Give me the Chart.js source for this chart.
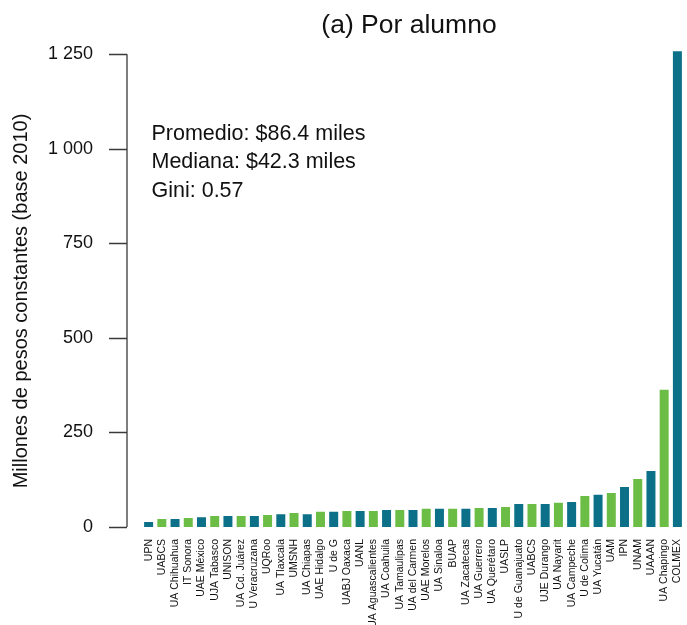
<!DOCTYPE html>
<html>
<head>
<meta charset="utf-8">
<script src="https://cdn.jsdelivr.net/npm/chart.js@4/dist/chart.umd.min.js"></script>
<style>
  html, body { margin: 0; padding: 0; background: #fff; }
  #wrap { width: 687px; height: 625px; }
</style>
</head>
<body>
<div id="wrap"><canvas id="graficoAlumno"></canvas></div>
<script>
// datos (miles de pesos por alumno)
const universidades = ["UPN", "UABCS", "UA Chihuahua", "IT Sonora", "UAE México", "UJA Tabasco", "UNISON",
  "UA Cd. Juárez", "U Veracruzana", "UQRoo", "UA Tlaxcala", "UMSNH", "UA Chiapas", "UAE Hidalgo", "U de G",
  "UABJ Oaxaca", "UANL", "UA Aguascalientes", "UA Coahuila", "UA Tamaulipas", "UA del Carmen", "UAE Morelos",
  "UA Sinaloa", "BUAP", "UA Zacatecas", "UA Guerrero", "UA Querétaro", "UASLP", "U de Guanajuato", "UABCS",
  "UJE Durango", "UA Nayarit", "UA Campeche", "U de Colima", "UA Yucatán", "UAM", "IPN", "UNAM", "UAAAN",
  "UA Chapingo", "COLMEX"];
const gastoPorAlumno = [13, 21, 21, 24, 26, 29, 29, 29, 29, 32, 34, 37, 34, 40, 40, 42, 42, 42, 45, 45,
  45, 48, 48, 48, 48, 50, 50, 53, 61, 61, 61, 64, 66, 82, 85, 90, 106, 127, 148, 363, 1258];
const ticksY = [0, 250, 500, 750, 1000, 1250];
const titulo = "(a) Por alumno";
const tituloY = "Millones de pesos constantes (base 2010)";
const notas = ["Promedio: $86.4 miles", "Mediana: $42.3 miles", "Gini: 0.57"];

const FUENTE = "'Liberation Sans', Arial, sans-serif";
const TEAL = "rgb(11, 112, 136)";
const VERDE = "rgb(108, 189, 69)";

// eje y separado de las barras, titulos y notas
const ejeY = {
  id: "ejeY",
  afterDraw(chart) {
    const ctx = chart.ctx;
    const y = chart.scales.y;
    const area = chart.chartArea;
    const x0 = area.left - 15;
    ctx.save();
    ctx.strokeStyle = "#3a3a3a";
    ctx.lineWidth = 1.3;
    ctx.beginPath();
    ctx.moveTo(x0, y.getPixelForValue(0));
    ctx.lineTo(x0, y.getPixelForValue(ticksY[ticksY.length - 1]));
    ticksY.forEach(v => {
      const py = Math.round(y.getPixelForValue(v)) + 0.5;
      ctx.moveTo(x0 - 18, py);
      ctx.lineTo(x0, py);
    });
    ctx.stroke();

    ctx.fillStyle = "#111";
    ctx.textBaseline = "alphabetic";

    // titulo centrado sobre el area de barras
    ctx.font = "26.5px " + FUENTE;
    ctx.textAlign = "center";
    ctx.fillText(titulo, (area.left + area.right) / 2 - 4, 33);

    // titulo del eje y
    ctx.save();
    ctx.translate(26.5, 301);
    ctx.rotate(-Math.PI / 2);
    ctx.font = "20px " + FUENTE;
    ctx.fillText(tituloY, 0, 0);
    ctx.restore();

    // promedio, mediana y gini
    ctx.textAlign = "left";
    ctx.font = "21.5px " + FUENTE;
    notas.forEach((t, i) => ctx.fillText(t, 151.5, 139.5 + i * 28.7));
    ctx.restore();
  }
};

new Chart(document.getElementById("graficoAlumno"), {
  type: "bar",
  data: {
    labels: universidades,
    datasets: [{
      label: "Por alumno",
      data: gastoPorAlumno,
      backgroundColor: gastoPorAlumno.map((v, i) => i % 2 === 0 ? TEAL : VERDE),
      barPercentage: 0.68,
      categoryPercentage: 1
    }]
  },
  options: {
    responsive: true,
    maintainAspectRatio: false,
    animation: false,
    layout: { padding: { left: 0, right: 3, top: 50.5, bottom: 0 } },
    plugins: {
      legend: { display: false },
      tooltip: { enabled: false },
      title: { display: false }
    },
    scales: {
      x: {
        grid: { display: false, drawTicks: false },
        border: { display: false },
        ticks: {
          autoSkip: false,
          maxRotation: 90,
          minRotation: 90,
          padding: 12,
          color: "#111",
          font: { family: FUENTE, size: 10.5 }
        },
        afterFit: s => {
          s.height = 98;
          s.paddingLeft = 0;
          s.paddingRight = 0;
        }
      },
      y: {
        min: 0,
        max: 1260,
        grid: { display: false, drawTicks: false },
        border: { display: false },
        afterBuildTicks: s => { s.ticks = ticksY.map(v => ({ value: v })); },
        ticks: {
          padding: 49,
          color: "#111",
          font: { family: FUENTE, size: 18 },
          callback: v => v >= 1000 ? Math.floor(v / 1000) + " " + String(v % 1000).padStart(3, "0") : String(v)
        },
        afterFit: s => {
          s.width = 142;
          s.paddingTop = 0;
          s.paddingBottom = 0;
        }
      }
    }
  },
  plugins: [ejeY]
});
</script>
</body>
</html>
